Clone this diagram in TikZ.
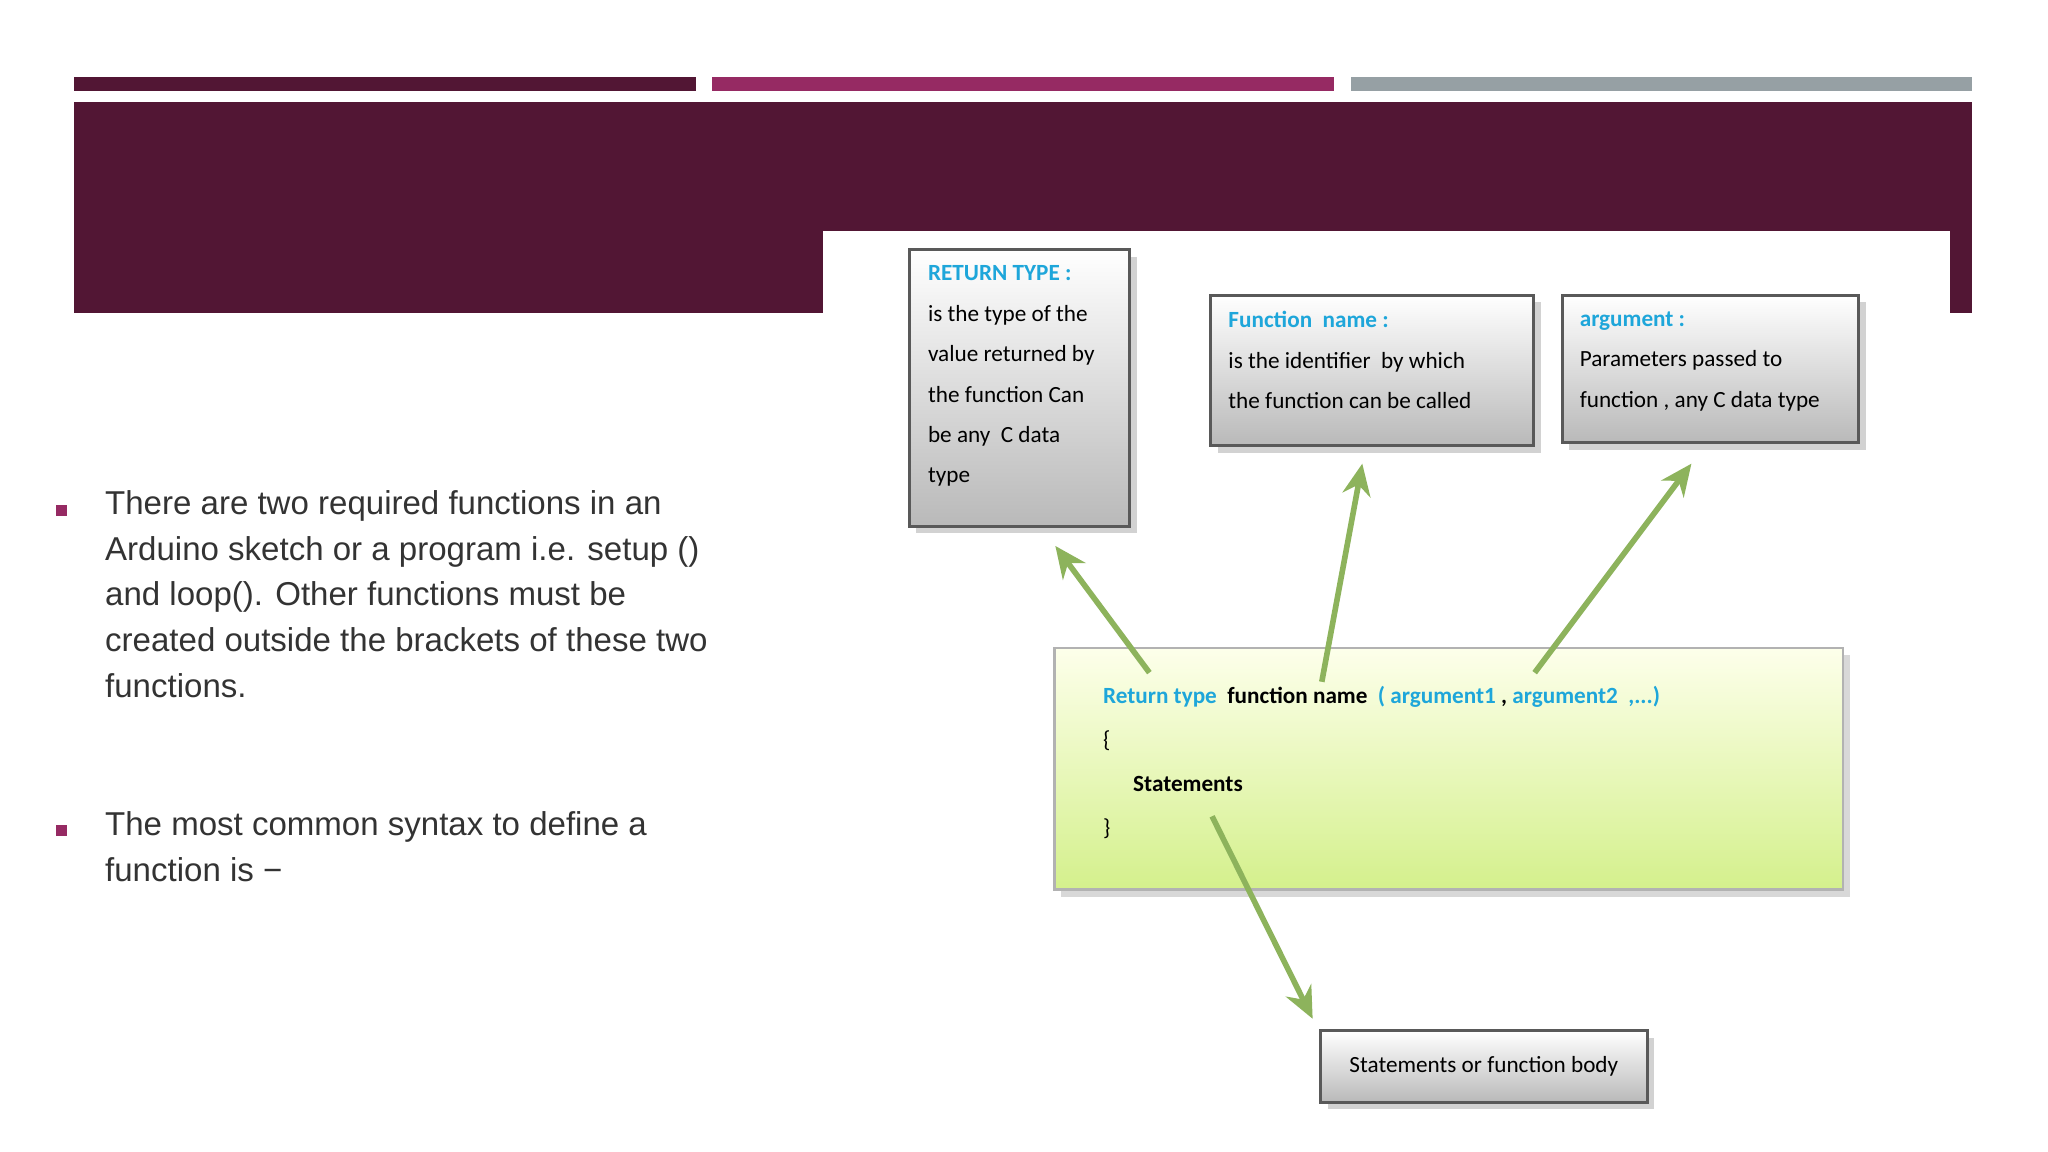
\documentclass[tikz,border=0pt]{standalone}
\usepackage{fontspec}
\setmainfont{Liberation Sans}
\newfontfamily\calfont{Carlito}
\usetikzlibrary{arrows.meta,shadows}
\definecolor{dpurple}{HTML}{521634}
\definecolor{mag}{HTML}{962A63}
\definecolor{grbar}{HTML}{96A0A4}
\definecolor{cyanT}{HTML}{1EA6DA}
\definecolor{arrg}{HTML}{8DB35C}
\begin{document}
\begin{tikzpicture}[x=0.013061cm,y=-0.013061cm,
  gbox/.style={draw=gray!70!black,line width=0.8pt,top color=white,bottom color=gray!55,drop shadow={shadow xshift=2pt,shadow yshift=-2pt,opacity=0.35}},
  btxt/.style={font=\calfont\fontsize{6.6pt}{11.5pt}\selectfont,align=left,anchor=north west,inner sep=0pt},
  bul/.style={font=\fontsize{9.4pt}{13pt}\selectfont,align=left,anchor=north west,inner sep=0pt,text=black!80},
  arr/.style={draw=arrg,line width=1.6pt,-{Stealth[length=9pt,width=8pt]}}]
\useasboundingbox (0,0) rectangle (1568,882);
\fill[white] (0,0) rectangle (1568,882);
\fill[dpurple] (57,59) rectangle (533,70);
\fill[mag] (545,59) rectangle (1021,70);
\fill[grbar] (1034,59) rectangle (1510,70);
\fill[dpurple] (57,78) rectangle (1510,240);
\fill[white] (630,177) rectangle (1493,882);
% bullets
\fill[mag] (43,387) rectangle (51,395);
\fill[mag] (43,632) rectangle (51,640);
\node[bul] (b1) at (80,375) {There are two required functions in an\\Arduino sketch or a program i.e. setup ()\\and loop(). Other functions must be\\created outside the brackets of these two\\functions.};
\node[bul] (b2) at (80,621) {The most common syntax to define a\\function is \textminus};
% boxes
\node[gbox,minimum width=169*0.013061cm,minimum height=212*0.013061cm,anchor=north west] (rt) at (695,190) {};
\node[btxt] (rtt) at (710,203) {\textcolor{cyanT}{\textbf{RETURN TYPE :}}\\is the type of the\\value returned by\\the function Can\\be any\ \ C data\\type};
\node[gbox,minimum width=247*0.013061cm,minimum height=115*0.013061cm,anchor=north west] (fn) at (926,225) {};
\node[btxt] (fnt) at (940,238) {\textcolor{cyanT}{\textbf{Function\ \ name :}}\\is the identifier\ \ by which\\the function can be called};
\node[gbox,minimum width=227*0.013061cm,minimum height=113*0.013061cm,anchor=north west] (ar) at (1195,225) {};
\node[btxt] (art) at (1209,238) {\textcolor{cyanT}{\textbf{argument :}}\\Parameters passed to\\function , any C data type};
\node[draw=gray!60,line width=0.8pt,top color=green!10!yellow!8,bottom color={rgb,255:red,212;green,240;blue,140},minimum width=604*0.013061cm,minimum height=185*0.013061cm,anchor=north west,drop shadow={shadow xshift=2pt,shadow yshift=-2pt,opacity=0.3}] (gb) at (806,495) {};
\node[btxt] (code) at (844,525) {\textcolor{cyanT}{\textbf{Return type}}\ \ \textbf{function name}\ \ \textcolor{cyanT}{\textbf{( argument1}}\ \textbf{,}\ \textcolor{cyanT}{\textbf{argument2}}\ \ \textcolor{cyanT}{\textbf{,...)}}\\[1pt]\{\\[1pt]\hspace*{1.3em}\textbf{Statements}\\[1pt]\}};
\node[gbox,minimum width=250*0.013061cm,minimum height=55*0.013061cm,anchor=north west] (sb) at (1010,788) {};
\node[font=\calfont\fontsize{6.6pt}{8pt}\selectfont] (sbt) at (sb.center) {Statements or function body};
% arrows
\coordinate (a1) at (880,515); \coordinate (e1) at (808,418);
\coordinate (a2) at (1012,522); \coordinate (e2) at (1043,355);
\coordinate (a3) at (1175,515); \coordinate (e3) at (1295,355);
\coordinate (a4) at (928,625); \coordinate (e4) at (1005,780);
\draw[arr] (a1) -- (e1);
\draw[arr] (a2) -- (e2);
\draw[arr] (a3) -- (e3);
\draw[arr] (a4) -- (e4);
\end{tikzpicture}
\end{document}
